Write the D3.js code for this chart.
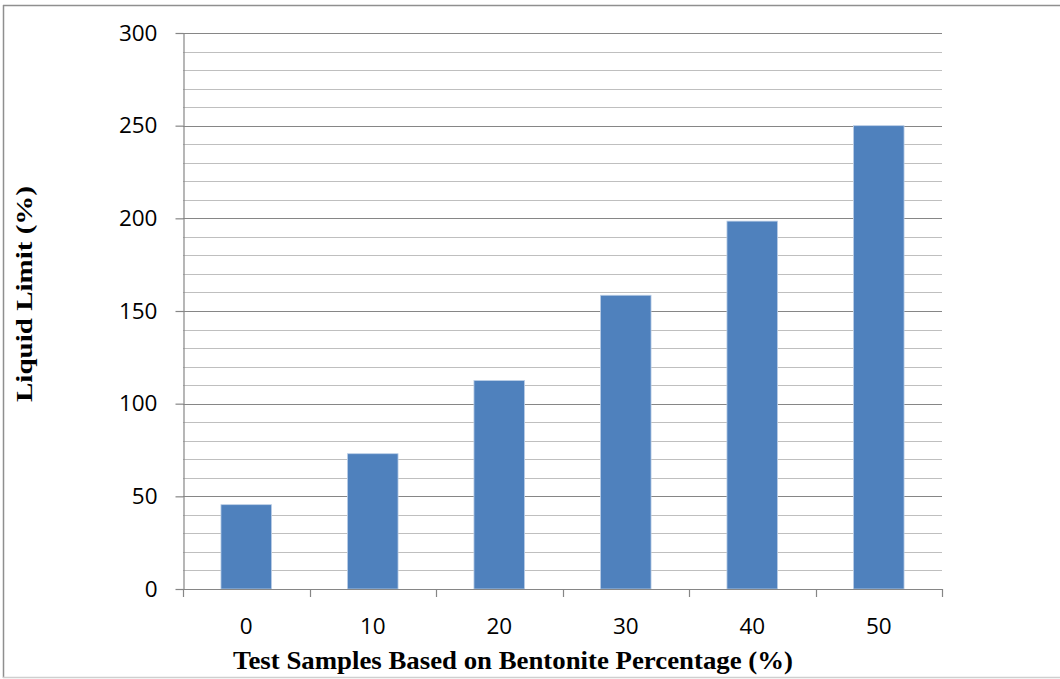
<!DOCTYPE html>
<html>
<head>
<meta charset="utf-8">
<script src="https://cdn.jsdelivr.net/npm/d3@7"></script>
<style>
  html, body { margin: 0; padding: 0; background: #ffffff; }
  svg { display: block; }
</style>
</head>
<body>
<svg id="chart" width="1060" height="679"></svg>
<script>
// Liquid limit of soil samples by bentonite content
const categories = ["0", "10", "20", "30", "40", "50"];
const liquidLimit = [45.5, 73, 112.5, 158.5, 198.5, 250];
const yTicks = [0, 50, 100, 150, 200, 250, 300];
const xTitle = "Test Samples Based on Bentonite Percentage (%)";
const yTitle = "Liquid Limit (%)";

const svg = d3.select("#chart");
const W = 1060, H = 679;
const plot = { left: 183, right: 942, top: 33, bottom: 589 };

// Frame around the figure
svg.append("line").attr("x1", 3.5).attr("x2", 3.5).attr("y1", 5).attr("y2", 678)
  .attr("stroke", "#8f8f8f").attr("stroke-width", 1.5);
svg.append("line").attr("x1", 3).attr("x2", W).attr("y1", 5.5).attr("y2", 5.5)
  .attr("stroke", "#8f8f8f").attr("stroke-width", 1.5);
svg.append("line").attr("x1", 3).attr("x2", W).attr("y1", 677.5).attr("y2", 677.5)
  .attr("stroke", "#cfcfcf").attr("stroke-width", 1.5);

const x = d3.scaleBand()
  .domain(categories)
  .range([plot.left, plot.right])
  .paddingInner(0.6)
  .paddingOuter(0.3);

const y = d3.scaleLinear()
  .domain([0, 300])
  .range([plot.bottom, plot.top]);

// Minor gridlines every 10
const minor = d3.range(10, 300, 10).filter(v => v % 50 !== 0);
svg.append("g").selectAll("line").data(minor).join("line")
  .attr("x1", plot.left).attr("x2", plot.right)
  .attr("y1", d => Math.round(y(d)) + 0.5).attr("y2", d => Math.round(y(d)) + 0.5)
  .attr("stroke", "#bfbfbf").attr("stroke-width", 1.2);

// Major gridlines every 50
svg.append("g").selectAll("line").data(yTicks.filter(v => v > 0)).join("line")
  .attr("x1", plot.left).attr("x2", plot.right)
  .attr("y1", d => Math.round(y(d)) + 0.5).attr("y2", d => Math.round(y(d)) + 0.5)
  .attr("stroke", "#868686").attr("stroke-width", 1.2);

// Bars
svg.append("g").selectAll("rect").data(liquidLimit).join("rect")
  .attr("x", (d, i) => x(categories[i]))
  .attr("width", x.bandwidth())
  .attr("y", d => y(d))
  .attr("height", d => y(0) - y(d))
  .attr("fill", "#4f81bd")
  .attr("stroke", "#bccfe7")
  .attr("stroke-width", 0.8);

// Y axis
const yAxis = d3.axisLeft(y).tickValues(yTicks).tickSize(8).tickPadding(18).tickSizeOuter(0);
const gy = svg.append("g").attr("transform", `translate(${plot.left + 0.5},0)`).call(yAxis);
gy.select(".domain").attr("stroke", "#868686").attr("stroke-width", 1.2);
gy.selectAll(".tick line").attr("stroke", "#868686").attr("stroke-width", 1.2);
gy.selectAll(".tick text")
  .attr("font-family", "'Open Sans', sans-serif")
  .attr("font-size", 22.5)
  .attr("fill", "#000");

// X axis: tick marks at category boundaries
const boundaries = d3.range(categories.length + 1).map(i => plot.left + i * (plot.right - plot.left) / categories.length);
svg.append("line")
  .attr("x1", plot.left).attr("x2", plot.right)
  .attr("y1", plot.bottom + 0.5).attr("y2", plot.bottom + 0.5)
  .attr("stroke", "#868686").attr("stroke-width", 1.2);
svg.append("g").selectAll("line").data(boundaries).join("line")
  .attr("x1", d => Math.round(d) + 0.5).attr("x2", d => Math.round(d) + 0.5)
  .attr("y1", plot.bottom).attr("y2", plot.bottom + 8)
  .attr("stroke", "#868686").attr("stroke-width", 1.2);
svg.append("g").selectAll("text").data(categories).join("text")
  .attr("x", d => x(d) + x.bandwidth() / 2)
  .attr("y", 634)
  .attr("text-anchor", "middle")
  .attr("font-family", "'Open Sans', sans-serif")
  .attr("font-size", 22.5)
  .attr("fill", "#000")
  .text(d => d);

// Axis titles
svg.append("text")
  .attr("x", 513).attr("y", 669)
  .attr("text-anchor", "middle")
  .attr("font-family", "'Liberation Serif', 'Times New Roman', serif")
  .attr("font-weight", "bold")
  .attr("font-size", 25)
  .attr("textLength", 560)
  .attr("lengthAdjust", "spacingAndGlyphs")
  .attr("fill", "#000")
  .text(xTitle);

svg.append("text")
  .attr("transform", "translate(32,294) rotate(-90)")
  .attr("text-anchor", "middle")
  .attr("font-family", "'Liberation Serif', 'Times New Roman', serif")
  .attr("font-weight", "bold")
  .attr("font-size", 24)
  .attr("textLength", 216)
  .attr("lengthAdjust", "spacingAndGlyphs")
  .attr("fill", "#000")
  .text(yTitle);
</script>
</body>
</html>
